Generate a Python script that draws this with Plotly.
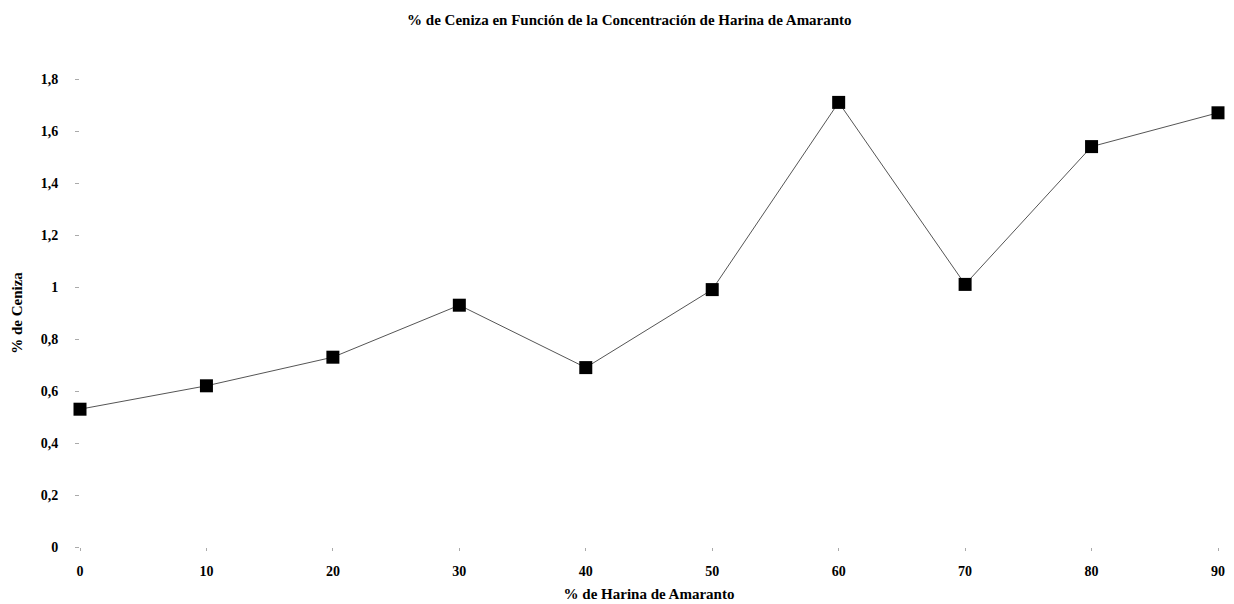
import plotly.graph_objects as go

# Amaranth flour concentration (%) and measured ash content (%)
harina = [0, 10, 20, 30, 40, 50, 60, 70, 80, 90]
ceniza = [0.53, 0.62, 0.73, 0.93, 0.69, 0.99, 1.71, 1.01, 1.54, 1.67]

y_ticks = [0, 0.2, 0.4, 0.6, 0.8, 1.0, 1.2, 1.4, 1.6, 1.8]
y_labels = ["0", "0,2", "0,4", "0,6", "0,8", "1", "1,2", "1,4", "1,6", "1,8"]
x_ticks = [0, 10, 20, 30, 40, 50, 60, 70, 80, 90]

serif = "Liberation Serif"

fig = go.Figure(
    go.Scatter(
        x=harina,
        y=ceniza,
        mode="lines+markers",
        line=dict(color="#555555", width=1),
        marker=dict(symbol="square", size=13, color="black"),
        cliponaxis=False,
        showlegend=False,
    )
)

fig.update_layout(
    width=1234,
    height=604,
    paper_bgcolor="white",
    plot_bgcolor="white",
    margin=dict(l=80, r=16, t=79, b=57),
    title=dict(
        text="<b>% de Ceniza en Función de la Concentración de Harina de Amaranto</b>",
        x=0.51,
        xanchor="center",
        y=0.967,
        yanchor="middle",
        font=dict(family=serif, size=15, color="black"),
    ),
    font=dict(family=serif, color="black"),
)

fig.update_xaxes(
    range=[0, 90],
    automargin=False,
    tickmode="array",
    tickvals=x_ticks,
    ticktext=[f"<b>{v}</b>" for v in x_ticks],
    tickfont=dict(family=serif, size=14, color="black"),
    ticks="outside",
    ticklen=3,
    tickwidth=1,
    tickcolor="#aaaaaa",
    ticklabelstandoff=8,
    showline=False,
    showgrid=False,
    zeroline=False,
    title=dict(
        text="<b>% de Harina de Amaranto</b>",
        font=dict(family=serif, size=15, color="black"),
        standoff=10,
    ),
)

fig.update_yaxes(
    range=[0, 1.8],
    automargin=False,
    tickmode="array",
    tickvals=y_ticks,
    ticktext=[f"<b>{t}</b>" for t in y_labels],
    tickfont=dict(family=serif, size=14, color="black"),
    ticks="outside",
    ticklen=4,
    tickwidth=1,
    tickcolor="#aaaaaa",
    ticklabelstandoff=14,
    showline=False,
    showgrid=False,
    zeroline=False,
    title=dict(
        text="<b>% de Ceniza</b>",
        font=dict(family=serif, size=15, color="black"),
        standoff=14,
    ),
)

fig.write_html("out.html")
